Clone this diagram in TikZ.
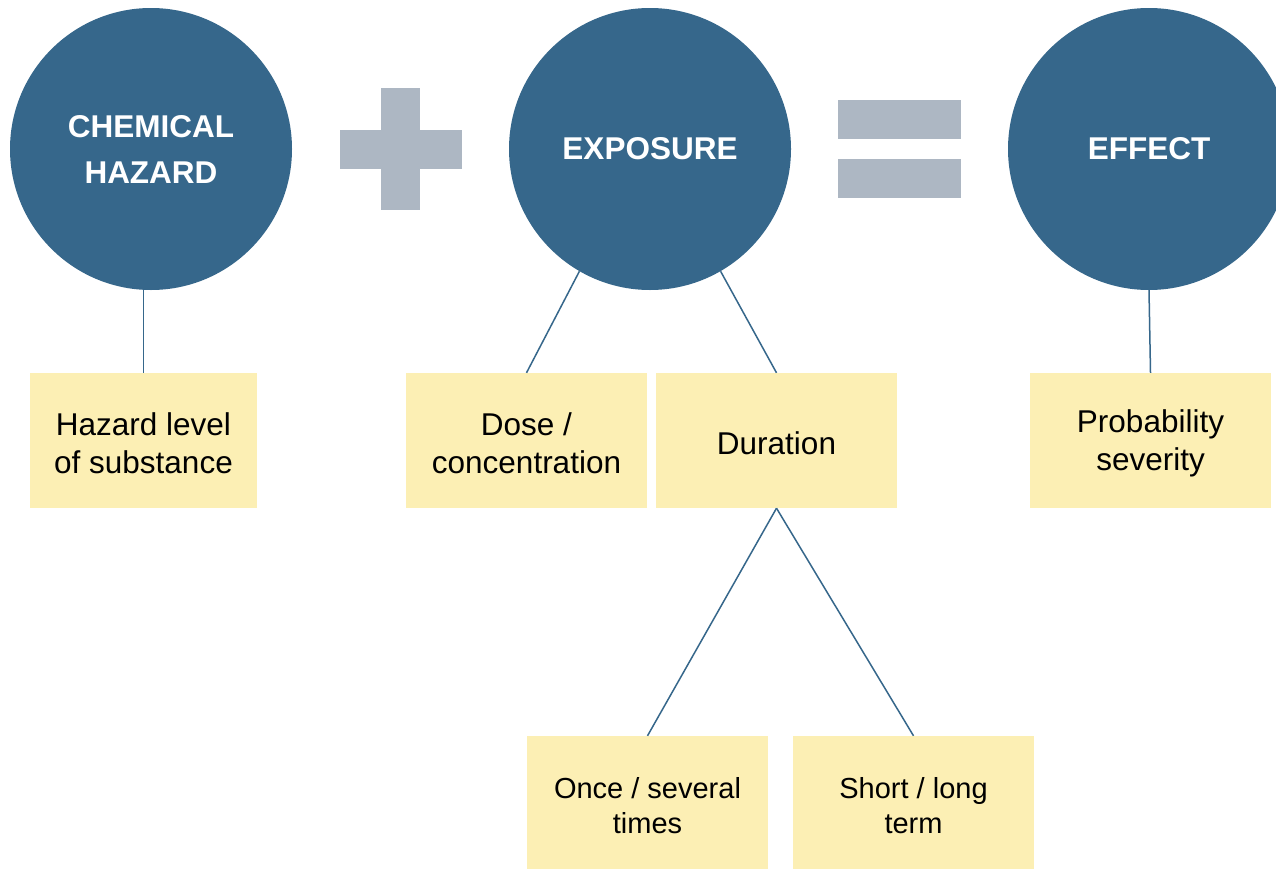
\documentclass[tikz,border=0pt]{standalone}
\usepackage{fontspec}
\setmainfont{Liberation Sans}
\definecolor{hazblue}{HTML}{36678B}
\definecolor{opgray}{HTML}{ADB7C3}
\definecolor{notey}{HTML}{FCEFB4}
\tikzset{
  bigcircle/.style={circle, fill=hazblue, minimum size=282pt, inner sep=0pt,
    text=white, align=center, font=\fontsize{31.5}{46}\selectfont\bfseries},
  factbox/.style={rectangle, fill=notey, minimum width=241pt, minimum height=135pt,
    inner sep=0pt},
  boxtext/.style={align=center, yshift=-3pt, font=\fontsize{31.5}{38}\selectfont},
  smalltext/.style={align=center, yshift=-3pt, font=\fontsize{29}{35}\selectfont},
  link/.style={draw=hazblue, line width=1.5pt},
  opbar/.style={fill=opgray}
}
\begin{document}
\begin{tikzpicture}[x=1pt, y=-1pt]
\useasboundingbox (0,0) rectangle (1276,870);
\clip (0,0) rectangle (1276,870);
\fill[white] (0,0) rectangle (1276,870);

% the three main terms
\node[bigcircle] (haz) at (151,149) {CHEMICAL\\HAZARD};
\node[bigcircle] (expo) at (650,149) {EXPOSURE};
\node[bigcircle] (eff) at (1149,149) {EFFECT};

% plus sign
\fill[opbar] (340,130) rectangle (462,169);
\fill[opbar] (381,88) rectangle (420,210);
% equals sign
\fill[opbar] (838,100) rectangle (961,139);
\fill[opbar] (838,159) rectangle (961,198);

% factor boxes
\node[factbox, minimum width=227pt,
  label={[boxtext]center:{Hazard level\\of substance}}] (level) at (143.5,440.5) {};
\node[factbox, label={[boxtext]center:{Dose /\\concentration}}] (dose) at (526.5,440.5) {};
\node[factbox, label={[boxtext]center:{Duration}}] (dur) at (776.5,440.5) {};
\node[factbox, label={[boxtext]center:{Probability\\severity}}] (prob) at (1150.5,440.5) {};
\node[factbox, minimum height=133pt,
  label={[smalltext]center:{Once / several\\times}}] (once) at (647.5,802.5) {};
\node[factbox, minimum height=133pt,
  label={[smalltext]center:{Short / long\\term}}] (term) at (913.5,802.5) {};

% connectors
\draw[link] (level.north) -- (level.north |- haz.south);
\draw[link] (dose.north) -- (expo.240);
\draw[link] (dur.north) -- (expo.300);
\draw[link] (prob.north) -- (eff.south);
\draw[link] (dur.south) -- (once.north);
\draw[link] (dur.south) -- (term.north);
\end{tikzpicture}
\end{document}
